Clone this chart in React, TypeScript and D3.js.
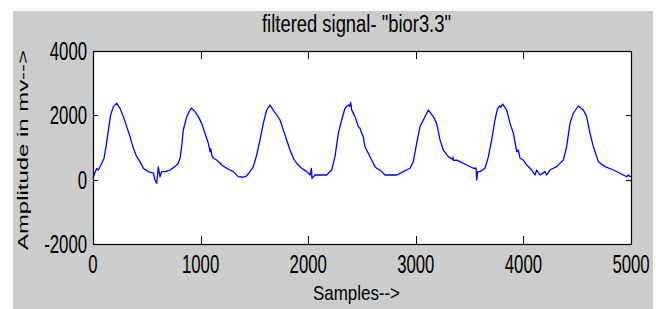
import * as d3 from 'd3';
import React, { useRef, useEffect } from 'react';

// Data
const samples = [0, 34, 50, 81, 102, 121, 143, 164, 189, 220, 251, 282, 313, 344, 375, 406, 437, 468, 514, 561, 576, 592, 607, 623, 638, 669, 716, 762, 793, 809, 824, 839, 871, 902, 917, 948, 979, 1010, 1041, 1072, 1080, 1087, 1095, 1103, 1118, 1150, 1196, 1243, 1273, 1304, 1350, 1397, 1428, 1459, 1490, 1521, 1552, 1583, 1614, 1645, 1676, 1707, 1738, 1769, 1800, 1831, 1862, 1893, 1940, 1986, 2017, 2030, 2035, 2063, 2172, 2218, 2249, 2280, 2311, 2342, 2373, 2385, 2395, 2404, 2435, 2466, 2481, 2497, 2512, 2520, 2528, 2543, 2559, 2574, 2590, 2621, 2637, 2667, 2683, 2714, 2823, 2884, 2946, 2977, 3008, 3039, 3070, 3117, 3163, 3194, 3225, 3256, 3302, 3340, 3345, 3350, 3380, 3411, 3473, 3535, 3560, 3566, 3575, 3597, 3643, 3674, 3705, 3736, 3758, 3780, 3790, 3807, 3845, 3876, 3907, 3938, 3953, 3969, 3999, 4031, 4077, 4108, 4123, 4154, 4201, 4216, 4247, 4309, 4371, 4402, 4433, 4464, 4510, 4557, 4588, 4619, 4650, 4697, 4758, 4836, 4898, 4929, 4960, 4975, 4985, 5000];
const amplitude = [70, 350, 300, 510, 660, 1030, 1540, 2010, 2270, 2380, 2220, 1960, 1650, 1340, 975, 715, 560, 355, 250, 200, -10, -110, 400, 90, 250, 250, 300, 405, 510, 665, 1025, 1545, 1960, 2165, 2220, 2115, 1960, 1750, 1440, 1130, 1000, 870, 960, 770, 665, 610, 455, 355, 300, 250, 95, 75, 115, 250, 405, 765, 1235, 1750, 2165, 2320, 2165, 2010, 1855, 1545, 1235, 920, 665, 510, 355, 250, 145, 350, 40, 145, 145, 300, 715, 1440, 1855, 2220, 2320, 2280, 2400, 2170, 1960, 1650, 1600, 1440, 1340, 1150, 1025, 920, 820, 715, 610, 405, 355, 300, 250, 145, 145, 250, 355, 560, 1130, 1650, 1855, 2165, 1960, 1750, 1235, 920, 715, 640, 700, 600, 610, 560, 455, 355, 360, -10, 250, 250, 355, 700, 1235, 1855, 2190, 2300, 2250, 2350, 2165, 1750, 1440, 870, 920, 665, 610, 455, 300, 145, 300, 145, 250, 145, 300, 405, 610, 1025, 1750, 2065, 2290, 2165, 1960, 1440, 1025, 560, 405, 300, 200, 145, 90, 150, 100, 100];

const xTicks = [0, 1000, 2000, 3000, 4000, 5000];
const yTicks = [-2000, 0, 2000, 4000];

const W = 656;
const H = 309;
const left = 93, right = 631, top = 51, bottom = 244;

export default function App() {
    const svgRef = useRef(null);

    function draw() {
        const svg = d3.select(svgRef.current);
        svg.selectAll("*").remove();

        // figure background
        svg.append('rect').attr('width', W).attr('height', H).attr('fill', '#ffffff');
        svg.append('rect')
            .attr('x', 13).attr('y', 11)
            .attr('width', 640).attr('height', H - 11)
            .attr('fill', '#cccccc');

        const x = d3.scaleLinear().domain([0, 5000]).range([left, right]);
        const y = d3.scaleLinear().domain([-2000, 4000]).range([bottom, top]);

        // axes area
        svg.append('rect')
            .attr('x', left).attr('y', top)
            .attr('width', right - left).attr('height', bottom - top)
            .attr('fill', '#ffffff');

        const line = d3.line<number>()
            .x((d, i) => x(samples[i]))
            .y(d => y(d));

        svg.append('path')
            .datum(amplitude)
            .attr('d', line)
            .attr('fill', 'none')
            .attr('stroke', '#0000ff')
            .attr('stroke-width', 1.3)
            .attr('stroke-linejoin', 'round');

        // box
        svg.append('rect')
            .attr('x', left + 0.5).attr('y', top + 0.5)
            .attr('width', right - left).attr('height', bottom - top)
            .attr('fill', 'none')
            .attr('stroke', '#000000')
            .attr('stroke-width', 1.2);

        // ticks (inward, on all four sides)
        const tickG = svg.append('g').attr('stroke', '#000').attr('stroke-width', 1);
        xTicks.forEach(t => {
            const px = Math.round(x(t)) + 0.5;
            tickG.append('line').attr('x1', px).attr('x2', px).attr('y1', bottom).attr('y2', bottom - 8);
            tickG.append('line').attr('x1', px).attr('x2', px).attr('y1', top).attr('y2', top + 8);
        });
        yTicks.forEach(t => {
            const py = Math.round(y(t)) + 0.5;
            tickG.append('line').attr('x1', left).attr('x2', left + 5).attr('y1', py).attr('y2', py);
            tickG.append('line').attr('x1', right).attr('x2', right - 5).attr('y1', py).attr('y2', py);
        });

        const font = 'Liberation Sans, Arial, sans-serif';

        // tick labels
        xTicks.forEach(t => {
            svg.append('text')
                .attr('transform', `translate(${x(t)},273) scale(0.67,1)`)
                .attr('text-anchor', 'middle')
                .attr('font-family', font)
                .attr('font-size', 25)
                .attr('fill', '#000')
                .text(t);
        });
        yTicks.forEach(t => {
            svg.append('text')
                .attr('transform', `translate(87,${y(t) + 9}) scale(0.67,1)`)
                .attr('text-anchor', 'end')
                .attr('font-family', font)
                .attr('font-size', 25)
                .attr('fill', '#000')
                .text(t);
        });

        // title and axis labels
        svg.append('text')
            .attr('x', 262).attr('y', 32)
            .attr('font-family', font)
            .attr('font-size', 23)
            .attr('textLength', 189)
            .attr('lengthAdjust', 'spacingAndGlyphs')
            .text('filtered signal- "bior3.3"');

        svg.append('text')
            .attr('x', 313).attr('y', 300)
            .attr('font-family', font)
            .attr('font-size', 21)
            .attr('textLength', 87)
            .attr('lengthAdjust', 'spacingAndGlyphs')
            .text('Samples-->');

        svg.append('text')
            .attr('transform', 'translate(28,250) rotate(-90)')
            .attr('font-family', font)
            .attr('font-size', 15.5)
            .attr('textLength', 200)
            .attr('lengthAdjust', 'spacingAndGlyphs')
            .text('Amplitude in mv-->');
    }

    useEffect(() => {
        draw();
    });

    return (
        <svg ref={svgRef} width={W} height={H} style={{ position: 'absolute', left: 0, top: 0 }}></svg>
    );
}
